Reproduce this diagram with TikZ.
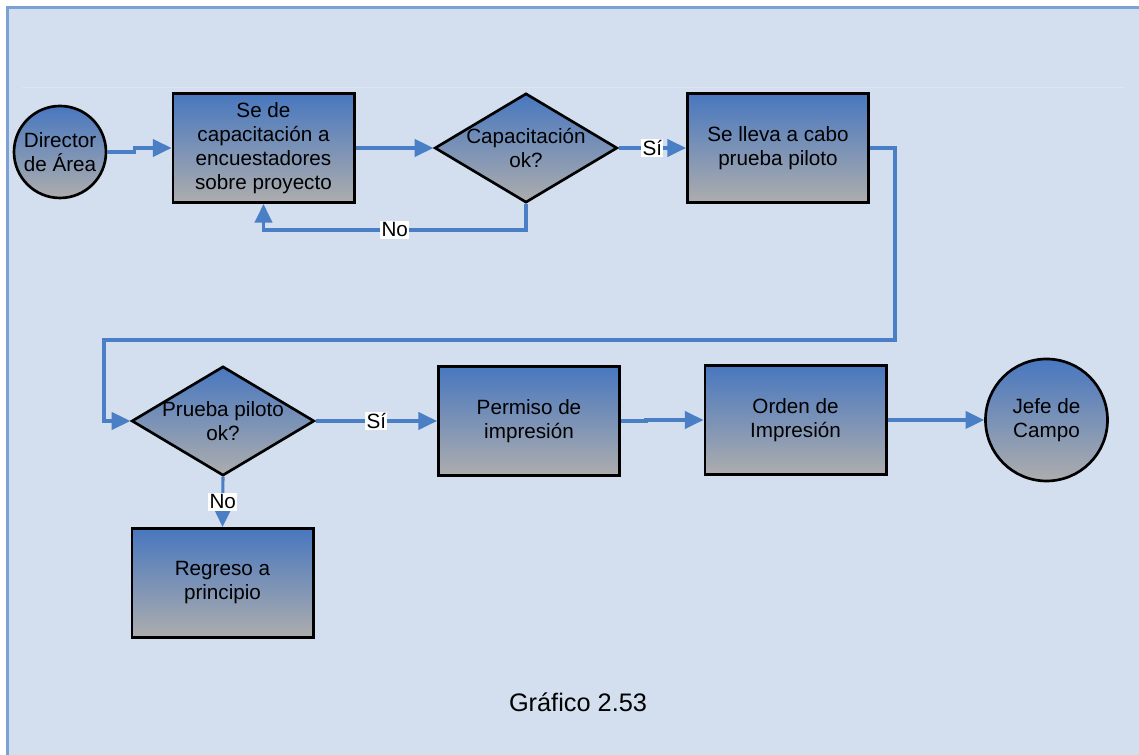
\documentclass[tikz,border=0pt]{standalone}
\usepackage{fontspec}
\setmainfont{Liberation Sans}
\usepackage{tikz}
\usetikzlibrary{shapes.geometric, arrows.meta}
\usepackage{xcolor}

\definecolor{panelfill}{HTML}{D3DFEE}
\definecolor{panelrule}{HTML}{7BA2D2}
\definecolor{flowblue}{HTML}{4A7EC5}
\definecolor{shadetop}{HTML}{4877BF}
\definecolor{shadebot}{HTML}{ADADAD}

\newcommand{\boxfont}{\fontsize{15.5}{18}\selectfont}

\tikzset{
    proc/.style={rectangle, draw=black, line width=2pt, top color=shadetop, bottom color=shadebot,
        minimum width=136pt, minimum height=82pt, inner sep=1pt, align=center, font=\boxfont},
    decision/.style={diamond, draw=black, line width=2pt, top color=shadetop, bottom color=shadebot,
        minimum width=137pt, minimum height=82pt, inner sep=0pt},
    terminal/.style={circle, draw=black, line width=2pt, top color=shadetop, bottom color=shadebot,
        inner sep=0pt},
    every label/.style={align=center, font=\boxfont},
    flow/.style={draw=flowblue, line width=2.3pt, -{Triangle[length=14pt, width=13pt]}},
    tag/.style={fill=white, inner sep=1pt, font=\boxfont}
}

\begin{document}
\begin{tikzpicture}[x=75pt, y=75pt]
    \useasboundingbox (0,0) rectangle (11.39,7.55);

    % Panel background and frame
    \fill[white] (0,0) rectangle (11.39,7.55);
    \fill[panelfill] (0.075,0) rectangle (11.39,7.475);
    \draw[panelrule, line width=2.25pt] (0.075,0) -- (0.075,7.475) -- (11.39,7.475);
    \draw[white!20!panelfill, line width=0.75pt] (0.22,6.67) -- (11.25,6.67);

    % First row
    \node[terminal, minimum size=69pt, label=center:Director\\de Área] (dir) at (0.60, 6.03) {};
    \node[proc] (train) at (2.635, 6.07) {Se de\\capacitación a\\encuestadores\\sobre proyecto};
    \node[decision, label=center:Capacitación\\ok?] (trainok) at (5.26, 6.07) {};
    \node[proc] (pilot) at (7.78, 6.07) {Se lleva a cabo\\prueba piloto};

    % Second row
    \node[decision, label=center:Prueba piloto\\ok?] (pilotok) at (2.23, 3.34) {};
    \node[proc] (permit) at (5.29, 3.34) {Permiso de\\impresión};
    \node[proc] (order) at (7.955, 3.35) {Orden de\\Impresión};
    \node[terminal, minimum size=91.5pt, label=center:Jefe de\\Campo] (jefe) at (10.465, 3.35) {};
    \node[proc] (restart) at (2.225, 1.72) {Regreso a\\principio};

    \node[anchor=base, font=\fontsize{19}{23}\selectfont] (caption) at (5.78, 0.43) {Gráfico 2.53};

    % Connectors
    \draw[flow] (dir.east) -- ++(0.27,0) |- (train.west);
    \draw[flow] (train.east) -- (trainok.west);
    \draw[flow] (trainok.east) -- node[tag] {Sí} (pilot.west);
    \draw[flow] (trainok.south) -- ++(0,-0.26) -| node[tag, pos=0.25] {No} (train.south);
    \draw[flow] (pilot.east) -| (8.95,4.15) -- (1.04,4.15) |- (pilotok.west);
    \draw[flow] (pilotok.east) -- node[tag] {Sí} (permit.west);
    \draw[flow] (pilotok.south) -- node[tag] {No} (restart.north);
    \draw[flow] (permit.east) -- ++(0.25,0) |- (order.west);
    \draw[flow] (order.east) -- (jefe.west);
\end{tikzpicture}
\end{document}
